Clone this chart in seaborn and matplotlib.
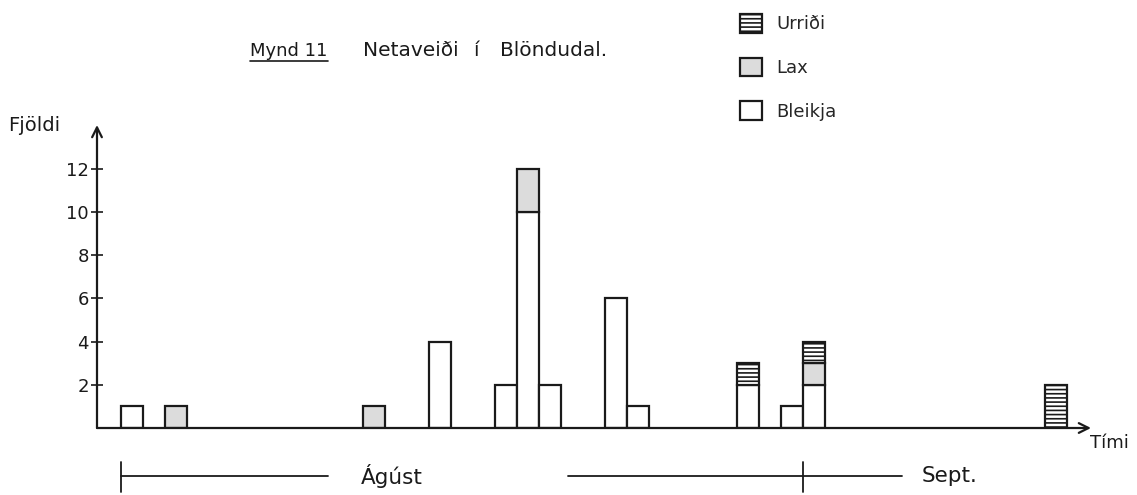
import numpy as np
import pandas as pd
import seaborn as sns
import matplotlib.pyplot as plt
from matplotlib.patches import Patch
from matplotlib.lines import Line2D

# days counted from 1 August (day 0); Sept 1 = day 31
days = [0, 2, 11, 14, 17, 18, 19, 22, 23, 28, 30, 31, 42]
bleikja = [1, 0, 0, 4, 2, 10, 2, 6, 1, 2, 1, 2, 0]
lax = [0, 1, 1, 0, 0, 2, 0, 0, 0, 0, 0, 1, 0]
urridi = [0, 0, 0, 0, 0, 0, 0, 0, 0, 1, 0, 1, 2]
species = ["Urriði", "Lax", "Bleikja"]
yticks = [2, 4, 6, 8, 10, 12]
month_names = ["Ágúst", "Sept."]
month_starts = [0, 31]

ink = "#1a1a1a"
sns.set_style("white")
plt.rcParams["font.family"] = ["DejaVu Sans"]
plt.rcParams["hatch.color"] = ink
plt.rcParams["hatch.linewidth"] = 1.2

# long form table for seaborn
rows = []
for name, vals in zip(["Bleikja", "Lax", "Urriði"], [bleikja, lax, urridi]):
    for d, v in zip(days, vals):
        rows.append({"day": d, "species": name, "count": v})
df = pd.DataFrame(rows)

fig = plt.figure(figsize=(11.37, 4.95), dpi=100)
ax = fig.add_axes([97 / 1137, 1 - 428 / 495, 994 / 1137, 303 / 495])

palette = {"Urriði": "white", "Lax": "#dcdcdc", "Bleikja": "white"}
sns.histplot(data=df, x="day", weights="count", hue="species", hue_order=species,
             multiple="stack", binwidth=1, binrange=(-1, 44), palette=palette,
             edgecolor=ink, linewidth=1.6, alpha=1, legend=False, ax=ax)

# containers come bottom layer first; hatch the trout, drop empty bins
for name, cont in zip(species[::-1], ax.containers):
    for p in cont:
        if p.get_height() == 0:
            p.set_visible(False)
        elif name == "Urriði":
            p.set_hatch("----")

ax.set_xlim(-1.09, 44.09)
ax.set_ylim(0, 14.03)
for s in ax.spines.values():
    s.set_visible(False)
ax.set_xticks([])
ax.set_yticks(yticks)
ax.tick_params(axis="y", direction="inout", length=8, width=1.2, colors=ink,
               labelsize=13, pad=2, left=True)
ax.set_xlabel("")
ax.set_ylabel("")

# axes with arrow heads
arrow = dict(arrowstyle="->,head_length=0.7,head_width=0.35", lw=1.6, color=ink,
             shrinkA=0, shrinkB=0)
ax.annotate("", xy=(1, 0), xytext=(0, 0), xycoords="axes fraction", arrowprops=arrow)
ax.annotate("", xy=(0, 1), xytext=(0, 0), xycoords="axes fraction", arrowprops=arrow)

# month bracket below the time axis
tr = ax.get_xaxis_transform()
yb = (428 - 476) / 303
lkw = dict(color=ink, lw=1.3, transform=tr, clip_on=False)
ax.plot([month_starts[0], 9.4], [yb, yb], **lkw)
ax.plot([20.3, 35.5], [yb, yb], **lkw)
for m in month_starts:
    ax.plot([m, m], [(428 - 462) / 303, (428 - 492) / 303], **lkw)
ax.text(12.3, yb, month_names[0], transform=tr, ha="center", va="center",
        fontsize=15.5, color=ink)
ax.text(36.4, yb, month_names[1], transform=tr, ha="left", va="center",
        fontsize=15.5, color=ink)

# axis labels
fig.text(8 / 1137, 1 - 125 / 495, "Fjöldi", ha="left", va="center", fontsize=14, color=ink)
fig.text(1090 / 1137, 1 - 443 / 495, "Tími", ha="left", va="center", fontsize=13, color=ink)

# title
ty = 1 - 51 / 495
fig.text(250 / 1137, ty, "Mynd 11", ha="left", va="center", fontsize=13, color=ink)
fig.add_artist(Line2D([250 / 1137, 328 / 1137], [1 - 61 / 495] * 2, lw=1.2, color=ink))
fig.text(363 / 1137, ty, "Netaveiði", ha="left", va="center", fontsize=14.5, color=ink)
fig.text(474 / 1137, ty, "í", ha="left", va="center", fontsize=14.5, color=ink)
fig.text(500 / 1137, ty, "Blöndudal.", ha="left", va="center", fontsize=14.5, color=ink)

# legend
handles = [Patch(facecolor=palette[s], edgecolor=ink, linewidth=1.6,
                 hatch="----" if s == "Urriði" else None) for s in species]
ax.legend(handles, species, loc="upper left", bbox_to_anchor=(740 / 1137, 1 - 14 / 495),
          bbox_transform=fig.transFigure, frameon=False, fontsize=13,
          handlelength=1.2, handleheight=1.2, handletextpad=0.8, labelspacing=1.35,
          borderpad=0, borderaxespad=0)

fig.savefig("out.png", dpi=100)
